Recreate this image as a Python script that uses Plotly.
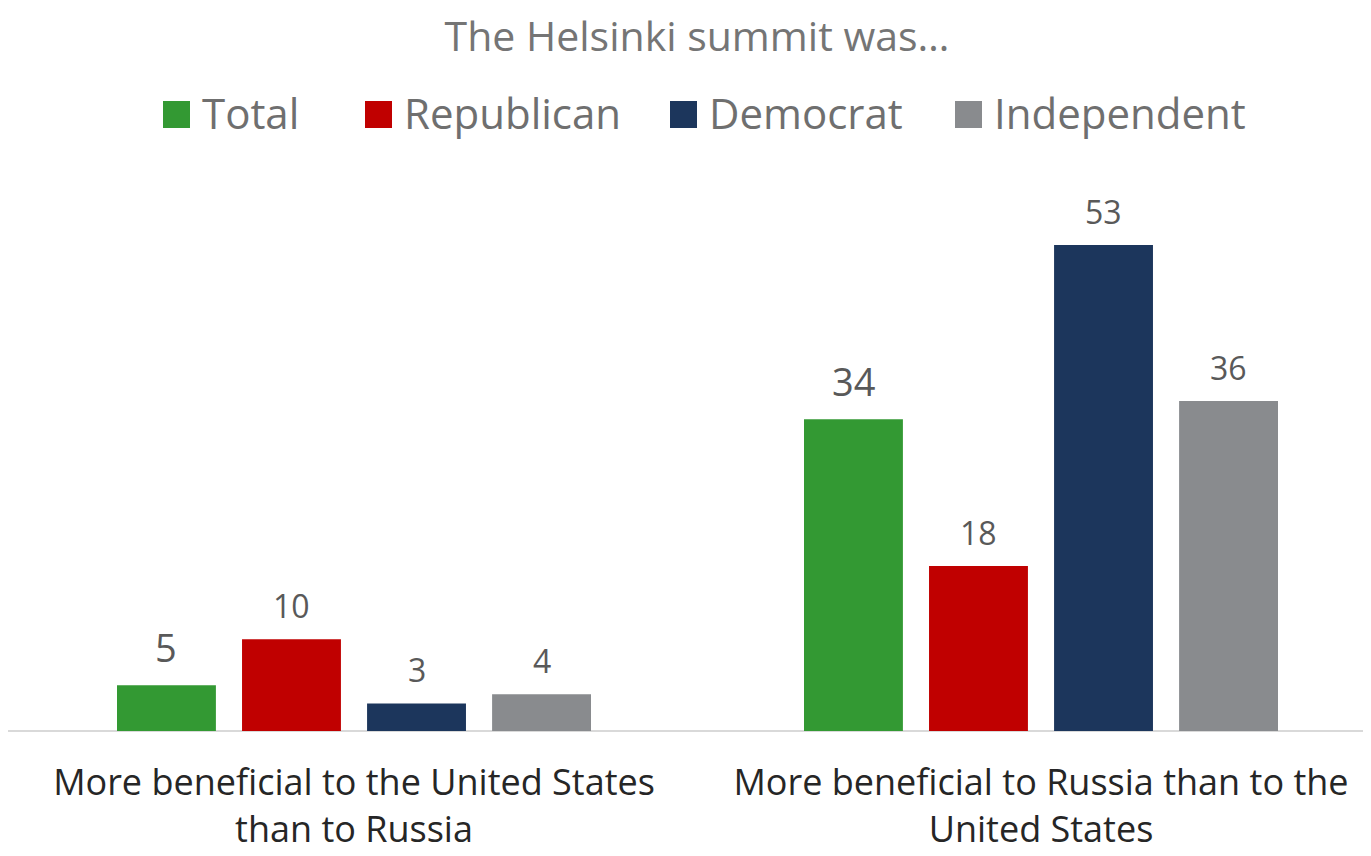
import plotly.graph_objects as go

# ---- data ----
categories = ["More beneficial to the United States<br>than to Russia",
              "More beneficial to Russia than to the<br>United States"]
series_names = ["Total", "Republican", "Democrat", "Independent"]
total_vals = [5, 34]
republican_vals = [10, 18]
democrat_vals = [3, 53]
independent_vals = [4, 36]
title_text = "The Helsinki summit was…"

# ---- styles ----
colors = ["#339933", "#C00000", "#1C365C", "#898B8E"]
label_sizes = [38, 32, 32, 32]
FONT = "Open Sans"
OFF = 8  # page body margin
W, H = 1371 - OFF, 856 - OFF
M_L, M_R, M_T, M_B = 0, 0, 180 - OFF, 856 - 731
BARGAP, BARGROUPGAP = 0.272, 0.209

series_vals = [total_vals, republican_vals, democrat_vals, independent_vals]
xpos = list(range(len(categories)))

fig = go.Figure()
for name, vals, col in zip(series_names, series_vals, colors):
    fig.add_trace(go.Bar(x=xpos, y=vals, name=name, marker_color=col,
                         marker_line_width=0, showlegend=False, hoverinfo="skip"))

# value labels placed through the axes
n = len(series_names)
slot = (1 - BARGAP) / n
for i, (vals, fs) in enumerate(zip(series_vals, label_sizes)):
    off = (i - (n - 1) / 2) * slot
    for xi, v in zip(xpos, vals):
        fig.add_annotation(x=xi + off, y=v, text=str(v), showarrow=False,
                           xref="x", yref="y", yanchor="bottom", yshift=10,
                           font=dict(family=FONT, size=fs, color="#595959"))

# manual legend (screen pixel positions converted to paper coords)
plot_w = W - M_L - M_R
plot_h = H - M_T - M_B
def px_x(p):
    return (p - OFF - M_L) / plot_w
def px_y(p):
    return (H - M_B - (p - OFF)) / plot_h

sq_left = [163, 365, 670, 955]
for name, col, sx in zip(series_names, colors, sq_left):
    fig.add_shape(type="rect", xref="paper", yref="paper",
                  x0=px_x(sx), x1=px_x(sx + 27), y0=px_y(128), y1=px_y(101),
                  fillcolor=col, line_width=0)
    fig.add_annotation(x=px_x(sx + 37), y=px_y(113), xref="paper", yref="paper",
                       text=name, showarrow=False, xanchor="left", yanchor="middle",
                       font=dict(family=FONT, size=42, color="#6F6F6F"))

fig.update_layout(
    width=W, height=H,
    margin=dict(l=M_L, r=M_R, t=M_T, b=M_B, autoexpand=False),
    paper_bgcolor="white", plot_bgcolor="white",
    barmode="group", bargap=BARGAP, bargroupgap=BARGROUPGAP,
    title=dict(text=title_text, x=(697 - OFF) / W, xanchor="center",
               y=1 - (37 - OFF) / H, yanchor="middle", yref="container",
               font=dict(family=FONT, size=41, color="#757575")),
    xaxis=dict(range=[-346 / 687, 1 + 330 / 687], tickvals=xpos, ticktext=categories,
               showgrid=False, zeroline=False, showline=False, ticks="",
               tickfont=dict(family=FONT, size=36, color="#262626"),
               ticklabelstandoff=27, automargin=False),
    yaxis=dict(range=[0, (H - M_B - M_T) / (486 / 53)], showgrid=False,
               zeroline=True, zerolinecolor="#D9D9D9", zerolinewidth=2,
               showticklabels=False, showline=False, automargin=False),
    font=dict(family=FONT),
)

fig.write_html("out.html")
